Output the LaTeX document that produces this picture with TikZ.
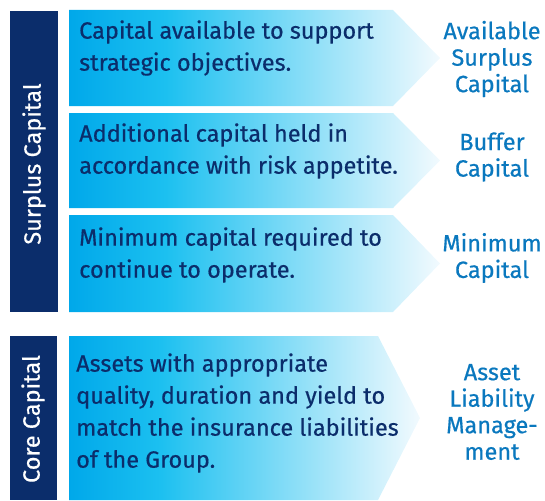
\documentclass[tikz,border=0pt]{standalone}
\usepackage{fontspec}
\setmainfont{Fira Sans}[FakeBold=0.5]
\definecolor{navy}{HTML}{0B2D6B}
\definecolor{cyanA}{HTML}{00A8EA}
\definecolor{cyanB}{HTML}{1CC0F0}
\definecolor{paleB}{HTML}{F2FAFE}
\definecolor{labelblue}{HTML}{0A78BE}
\pgfdeclarehorizontalshading{bandfade}{100bp}{color(0bp)=(cyanA); color(25bp)=(cyanA); color(38bp)=(cyanB); color(75bp)=(paleB); color(100bp)=(paleB)}
\tikzset{
  band/.style={shading=bandfade},
  bar/.style={fill=navy},
  bartxt/.style={text=white, rotate=90, font=\fontsize{23.5}{26}\selectfont},
  desc/.style={text=navy, anchor=west, align=left, inner sep=0pt, font=\fontsize{23.5}{32}\selectfont},
  tag/.style={text=labelblue, align=center, inner sep=0pt, font=\fontsize{23.5}{26.5}\selectfont},
}
\begin{document}
\begin{tikzpicture}[x=1pt,y=-1pt]
        \useasboundingbox (0,0) rectangle (545,500);

        % полосы слева
        \fill[bar] (10,11) rectangle (58,312);
        \fill[bar] (10,336) rectangle (57,500);
        \node[bartxt] (surplus) at (34,164) {Surplus Capital};
        \node[bartxt] (core) at (33,419) {Core Capital};

        % стрелки
        \shade[band] (69,10) -- (393,10) -- (440,58) -- (393,106) -- (69,106) -- cycle;
        \shade[band] (69,113) -- (393,113) -- (440,160.5) -- (393,208) -- (69,208) -- cycle;
        \shade[band] (69,215) -- (393,215) -- (440,263.5) -- (393,312) -- (69,312) -- cycle;
        \shade[band] (69,336) -- (378,336) -- (420,418) -- (378,500) -- (69,500) -- cycle;

        % тексты в стрелках
        \node[desc] (d1) at (79,48) {Capital available to support\\strategic objectives.};
        \node[desc] (d2) at (79,151) {Additional capital held in\\accordance with risk appetite.};
        \node[desc] (d3) at (79,255) {Minimum capital required to\\continue to operate.};
        \node[desc] (d4) at (76,413) {Assets with appropriate\\quality, duration and yield to\\match the insurance liabilities\\of the Group.};

        % подписи справа
        \node[tag] (t1) at (492,59) {Available\\Surplus\\Capital};
        \node[tag] (t2) at (492,157) {Buffer\\Capital};
        \node[tag] (t3) at (492,258) {Minimum\\Capital};
        \node[tag] (t4) at (492,412) {Asset\\Liability\\Manage-\\ment};
    \end{tikzpicture}
\end{document}
